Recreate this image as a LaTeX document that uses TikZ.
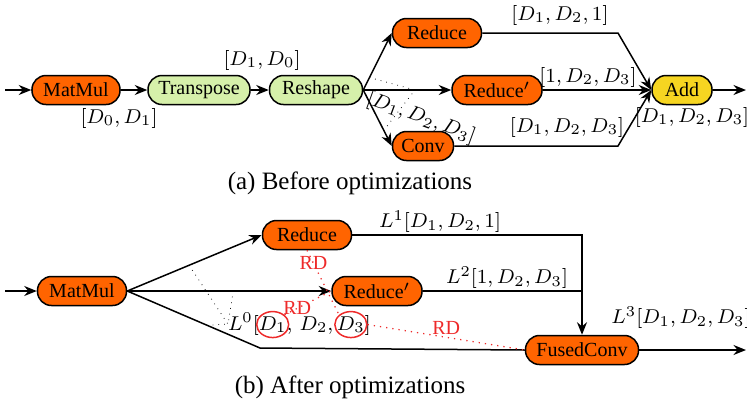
\documentclass[tikz,border=0pt]{standalone}
\usepackage{fontspec}
\setmainfont{Liberation Serif}
\usetikzlibrary{arrows.meta, positioning, calc, shapes.geometric}
\definecolor{opsorange}{HTML}{FF6400}
\definecolor{opsgreen}{HTML}{D6F0AA}
\definecolor{opsyellow}{HTML}{F6D521}
\definecolor{rdred}{HTML}{EE2A2A}
\tikzset{
  fus/.style={
    font=\rmfamily\footnotesize,
    >={Stealth[length=5pt, width=4pt]},
    line width=0.6pt,
    x=0.4pt, y=-0.4pt,
  },
  op/.style={
    draw=black, line width=0.6pt, rounded corners=5.6pt,
    minimum height=11.6pt, inner sep=1pt, align=center,
  },
  opor/.style={op, fill=opsorange},
  opgr/.style={op, fill=opsgreen},
  opye/.style={op, fill=opsyellow},
  flow/.style={->, draw=black},
  wire/.style={draw=black},
  dim/.style={inner sep=1pt},
  piece/.style={inner sep=0pt, outer sep=0pt},
  guide/.style={draw=black, dotted, line width=0.3pt},
  reuse/.style={draw=rdred, dotted, line width=0.5pt},
  reuselbl/.style={text=rdred, font=\rmfamily\footnotesize, inner sep=1pt},
  ring/.style={
    draw=rdred, ellipse, line width=0.6pt,
    minimum width=12.8pt, minimum height=10.4pt, inner sep=0pt,
  },
  subcap/.style={font=\rmfamily\normalsize},
}

\begin{document}
\begin{tikzpicture}[fus]
  \useasboundingbox (0,0) rectangle (747,401);

  % (a) before
  \node[opor, minimum width=35.2pt] (mm1) at (76,90) {MatMul};
  \node[opgr, minimum width=40.8pt] (tr) at (199,90) {Transpose};
  \node[opgr, minimum width=37.2pt] (rs) at (316,90) {Reshape};
  \node[opor, minimum width=35.6pt] (rd1) at (437,33) {Reduce};
  \node[opor, minimum width=36pt] (rdp1) at (497,90) {Reduce$'$};
  \node[opor, minimum width=24.4pt] (cv) at (423,146) {Conv};
  \node[opye, minimum width=24pt] (add) at (682,90) {Add};
  \coordinate (in1) at (5,90);
  \coordinate (out1) at (746,90);
  \coordinate (j1) at (618,33);
  \coordinate (j2) at (618,146);
  \coordinate (v1) at (415,90);

  \draw[flow] (in1) -- (mm1);
  \draw[flow] (mm1) -- (tr);
  \draw[flow] (tr) -- (rs);
  \draw[flow] (rs.east) -- (rd1.west);
  \draw[flow] (rs.east) -- (rdp1);
  \draw[flow] (rs.east) -- (cv.west);
  \draw[flow] (rd1) -- (j1) -- (add.west);
  \draw[flow] (rdp1) -- (add);
  \draw[flow] (cv) -- (j2) -- (add.west);
  \draw[flow] (add) -- (out1);
  \draw[guide] ($(rs.east)!0.22!(rd1.west)$) -- (v1) -- ($(rs.east)!0.72!(cv.west)$);

  \node[dim] (s1) at (119,118) {$[D_0, D_1]$};
  \node[dim] (s2) at (262,60) {$[D_1, D_0]$};
  \node[dim] (s3) at (560,15) {$[D_1, D_2, 1]$};
  \node[dim] (s4) at (588,77) {$[1, D_2, D_3]$};
  \node[dim] (s5) at (567,127) {$[D_1, D_2, D_3]$};
  \node[dim] (s6) at (692,117) {$[D_1, D_2, D_3]$};
  \node[dim, rotate=-20] (s7) at (421,118) {$[D_1, D_2, D_3]$};
  \node[subcap] (capa) at (350,183) {(a) Before optimizations};

  % (b) after
  \node[opor, minimum width=35.6pt] (mm2) at (82,291) {MatMul};
  \node[opor, minimum width=35.6pt] (rd2) at (307,235) {Reduce};
  \node[opor, minimum width=36pt] (rdp2) at (377,291) {Reduce$'$};
  \node[opor, minimum width=45.2pt] (fc) at (582,350) {FusedConv};
  \coordinate (in2) at (5,291);
  \coordinate (out2) at (746,350);
  \coordinate (bend) at (260,348);

  \draw[flow] (in2) -- (mm2);
  \draw[flow] (mm2.east) -- (rd2.west);
  \draw[flow] (mm2) -- (rdp2);
  \draw[wire] (mm2.east) -- (bend) -- (fc.west);
  \draw[flow] (rd2) -| (fc);
  \draw[wire] (rdp2) -- (rdp2 -| fc);
  \draw[flow] (fc) -- (out2);

  \node[dim] (t1) at (440,222) {$L^1[D_1, D_2, 1]$};
  \node[dim] (t2) at (507,278) {$L^2[1, D_2, D_3]$};
  \node[dim] (t3) at (681,318) {$L^3[D_1, D_2, D_3]$};
  \node[piece, anchor=base west] (l0) at (228,330) {$L^0[$};
  \node[piece, base right=0pt of l0] (x1) {$D_1$};
  \node[piece, base right=0pt of x1] (x2) {$,\,D_2,\,$};
  \node[piece, base right=0pt of x2] (x3) {$D_3$};
  \node[piece, base right=0pt of x3] (x4) {$]$};
  \draw[guide] ($(mm2.east)!0.46!(rd2.west)$) -- (l0.west);
  \draw[guide] ($(mm2.east)!0.52!(rdp2.west)$) -- (l0.west);
  \draw[guide] ($(mm2.east)!0.6!(bend)$) -- (l0.west);

  \node[ring] (c1) at (x1.center) {};
  \node[ring] (c3) at (x3.center) {};
  \draw[reuse] (rd2.south) -- node[reuselbl, pos=0.2] {RD} (c3.north west);
  \draw[reuse] (c1.north east) -- node[reuselbl, pos=0.27] {RD} (rdp2.west);
  \draw[reuse] (c3.east) -- node[reuselbl, above, pos=0.5] {RD} (fc.west);
  \node[subcap] (capb) at (350,387) {(b) After optimizations};
\end{tikzpicture}
\end{document}
